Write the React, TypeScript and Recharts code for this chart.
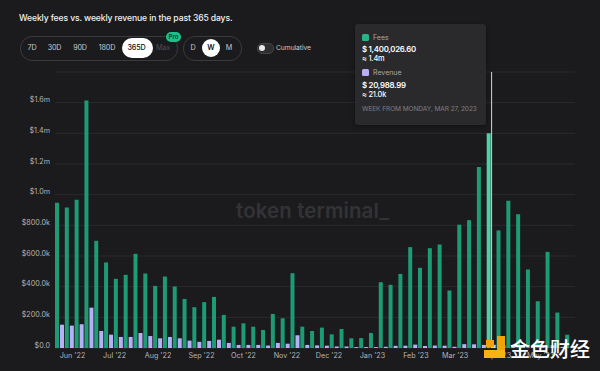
import React from "react";
import {
  BarChart,
  Bar,
  XAxis,
  YAxis,
  CartesianGrid,
  ReferenceLine,
  Cell,
} from "recharts";

// Weekly fees (USD), weeks starting Monday May 23, 2022 through May 22, 2023
const fees = [
  947000, 917000, 967000, 1614000, 699000, 558000, 451000, 477000, 614000, 486000,
  405000, 466000, 401000, 320000, 266000, 299000, 333000, 216000, 139000, 161000,
  139000, 118000, 222000, 194000, 488000, 139000, 111000, 133000, 89000, 124000,
  63000, 65000, 98000, 429000, 412000, 483000, 658000, 523000, 651000, 675000,
  375000, 804000, 834000, 1180000, 1400026.6, 767000, 961000, 873000, 512000, 305000,
  627000, 231000, 87000,
];

// Weekly revenue (USD)
const revenue = [
  152000, 146000, 155000, 263000, 111000, 87000, 72000, 72000, 98000, 78000,
  63000, 72000, 63000, 48000, 40000, 46000, 54000, 33000, 20000, 20000,
  20000, 16000, 33000, 28000, 83000, 20000, 17000, 15000, 10000, 10000,
  6000, 6000, 6000, 8000, 14000, 15000, 22000, 13000, 16000, 15000,
  8000, 25000, 24000, 20000, 20988.99, 18000, 20000, 17000, 12000, 8000,
  18000, 7000, 4000,
];

// Month tick positions: days since May 23, 2022 (first week start)
const monthTicks = [9, 39, 70, 101, 131, 162, 192, 223, 254, 282, 313, 343];
const monthLabels = [
  "Jun '22", "Jul '22", "Aug '22", "Sep '22", "Oct '22", "Nov '22",
  "Dec '22", "Jan '23", "Feb '23", "Mar '23", "Apr '23", "May '23",
];

const yTicks = [0, 200000, 400000, 600000, 800000, 1000000, 1200000, 1400000, 1600000];
const yTickLabels = ["$0.0", "$200.0k", "$400.0k", "$600.0k", "$800.0k", "$1.0m", "$1.2m", "$1.4m", "$1.6m"];

const highlightIndex = 44;

const data = fees.map((f, i) => ({ day: i * 7, fees: f, revenue: revenue[i] }));

const FONT = "Inter, 'Noto Sans', sans-serif";

const abs = (s: React.CSSProperties): React.CSSProperties => ({ position: "absolute", ...s });

const txt = (
  left: number,
  cy: number,
  text: string,
  size: number,
  color: string,
  extra: React.CSSProperties = {}
) => (
  <div
    style={abs({
      left,
      top: cy - size * 0.7,
      fontSize: size,
      lineHeight: `${size * 1.4}px`,
      color,
      whiteSpace: "nowrap",
      ...extra,
    })}
  >
    {text}
  </div>
);

const ctext = (cx: number, cy: number, text: string, size: number, color: string, extra: React.CSSProperties = {}) => (
  <div
    style={abs({
      left: cx - 30,
      width: 60,
      textAlign: "center",
      top: cy - size * 0.7,
      fontSize: size,
      lineHeight: `${size * 1.4}px`,
      color,
      whiteSpace: "nowrap",
      ...extra,
    })}
  >
    {text}
  </div>
);

export default function App() {
  return (
    <div
      style={{
        position: "absolute",
        left: 0,
        top: 0,
        width: 600,
        height: 371,
        background: "#1b1b1d",
        fontFamily: FONT,
        overflow: "hidden",
      }}
    >
      {/* Title */}
      {txt(19, 18, "Weekly fees vs. weekly revenue in the past 365 days.", 8.6, "#f2f2f2", { fontWeight: 500, letterSpacing: -0.12 })}

      {/* Range selector */}
      <div style={abs({ left: 20, top: 36, width: 156, height: 23, border: "1px solid #3a3a3d", borderRadius: 12 })} />
      {ctext(32, 48, "7D", 7.2, "#c8c8c8", { letterSpacing: -0.2 })}
      {ctext(54.5, 48, "30D", 7.2, "#c8c8c8", { letterSpacing: -0.2 })}
      {ctext(80, 48, "90D", 7.2, "#c8c8c8", { letterSpacing: -0.2 })}
      {ctext(107, 48, "180D", 7.2, "#c8c8c8", { letterSpacing: -0.2 })}
      <div style={abs({ left: 122, top: 38, width: 31, height: 20, borderRadius: 10, background: "#ffffff" })} />
      {ctext(136.5, 48, "365D", 7.2, "#111", { fontWeight: 500, letterSpacing: -0.2 })}
      {ctext(163, 48, "Max", 7.2, "#4e4e52", { letterSpacing: -0.2 })}
      <div style={abs({ left: 166, top: 32, width: 15, height: 10, borderRadius: 5, background: "#1fbf8c" })} />
      {ctext(173.5, 37, "Pro", 6, "#0b3b2a", { fontWeight: 600 })}

      {/* Granularity selector */}
      <div style={abs({ left: 183, top: 36, width: 57, height: 23, border: "1px solid #3a3a3d", borderRadius: 12 })} />
      {ctext(193, 48, "D", 7.2, "#c8c8c8")}
      <div style={abs({ left: 202, top: 39, width: 18, height: 18, borderRadius: 9, background: "#ffffff" })} />
      {ctext(211, 48, "W", 7.2, "#111", { fontWeight: 600 })}
      {ctext(229, 48, "M", 7.2, "#c8c8c8")}

      {/* Cumulative toggle */}
      <div style={abs({ left: 257, top: 43, width: 15, height: 9, borderRadius: 5, background: "#2e2e31", border: "1px solid #444" })} />
      <div style={abs({ left: 259, top: 45, width: 6, height: 6, borderRadius: 3, background: "#e8e8e8" })} />
      {txt(276, 48, "Cumulative", 6.8, "#c8c8c8", { letterSpacing: -0.1 })}

      {/* Watermark */}
      {txt(236, 211, "token terminal_", 20.5, "#333336", { fontWeight: 600, letterSpacing: 0.1 })}

      {/* Chart */}
      <div style={abs({ left: 0, top: 0 })}>
        <BarChart
          width={600}
          height={371}
          data={data}
          margin={{ top: 72, right: 25, bottom: 5, left: 5 }}
          barGap={1}
        >
          <CartesianGrid vertical={false} stroke="#2b2b2e" strokeWidth={1} />
          <XAxis
            type="number"
            dataKey="day"
            domain={[-3.5, 367.5]}
            ticks={monthTicks}
            tickFormatter={(v: number) => monthLabels[monthTicks.indexOf(v)]}
            axisLine={false}
            tickLine={false}
            tickSize={0}
            tickMargin={5}
            height={18}
            interval={0}
            allowDataOverflow
            tick={{ fill: "#b4b4b8", fontSize: 7.2, fontFamily: FONT }}
          />
          <YAxis
            domain={[0, 1800000]}
            ticks={yTicks}
            tickFormatter={(v: number) => yTickLabels[yTicks.indexOf(v)]}
            axisLine={false}
            tickLine={false}
            tickSize={0}
            tickMargin={5}
            width={50}
            interval={0}
            allowDataOverflow
            tick={{ fill: "#b4b4b8", fontSize: 7.2, fontFamily: FONT, dy: -3 }}
          />
          <Bar dataKey="fees" barSize={4} fill="#1c9b75" isAnimationActive={false}>
            {data.map((_, i) => (
              <Cell key={i} fill={i === highlightIndex ? "#4fd0a6" : "#1c9b75"} />
            ))}
          </Bar>
          <Bar dataKey="revenue" barSize={4} fill="#b7b0f6" isAnimationActive={false}>
            {data.map((_, i) => (
              <Cell key={i} fill={i === highlightIndex ? "#cfc9ff" : "#b7b0f6"} />
            ))}
          </Bar>
          <ReferenceLine x={highlightIndex * 7} stroke="#d6d6d6" strokeWidth={1} />
        </BarChart>
      </div>

      {/* Tooltip */}
      <div style={abs({ left: 355, top: 24, width: 131, height: 101, background: "#2a2a2d", borderRadius: 3, boxShadow: "0 1px 4px rgba(0,0,0,0.4)" })} />
      <div style={abs({ left: 362, top: 34, width: 7, height: 7, borderRadius: 1.5, background: "#27b488" })} />
      {txt(373, 37.5, "Fees", 7, "#a8a8ad")}
      {txt(362, 49, "$ 1,400,026.60", 7.8, "#ffffff", { fontWeight: 600, letterSpacing: -0.25 })}
      {txt(362, 59.5, "≈ 1.4m", 7.4, "#ffffff", { fontWeight: 500, letterSpacing: -0.2 })}
      <div style={abs({ left: 362, top: 69, width: 7, height: 7, borderRadius: 1.5, background: "#b7b0f6" })} />
      {txt(373, 72.5, "Revenue", 7, "#a8a8ad")}
      {txt(362, 85, "$ 20,988.99", 7.8, "#ffffff", { fontWeight: 600, letterSpacing: -0.25 })}
      {txt(362, 95.5, "≈ 21.0k", 7.4, "#ffffff", { fontWeight: 500, letterSpacing: -0.2 })}
      {txt(362, 110, "WEEK FROM MONDAY, MAR 27, 2023", 6.6, "#7e7e84", { letterSpacing: -0.1 })}

      {/* Site watermark (bottom right) */}
      <div style={abs({ left: 486, top: 340, width: 8, height: 7, background: "#f0a30a" })} />
      <div style={abs({ left: 497, top: 336, width: 8, height: 22, background: "#f0a30a" })} />
      <div style={abs({ left: 484, top: 350, width: 21, height: 8, background: "#f6b414" })} />
      {txt(510, 349, "金色财经", 20, "#ffffff", { fontFamily: "'Noto Sans CJK SC', sans-serif", fontWeight: 500 })}
    </div>
  );
}
